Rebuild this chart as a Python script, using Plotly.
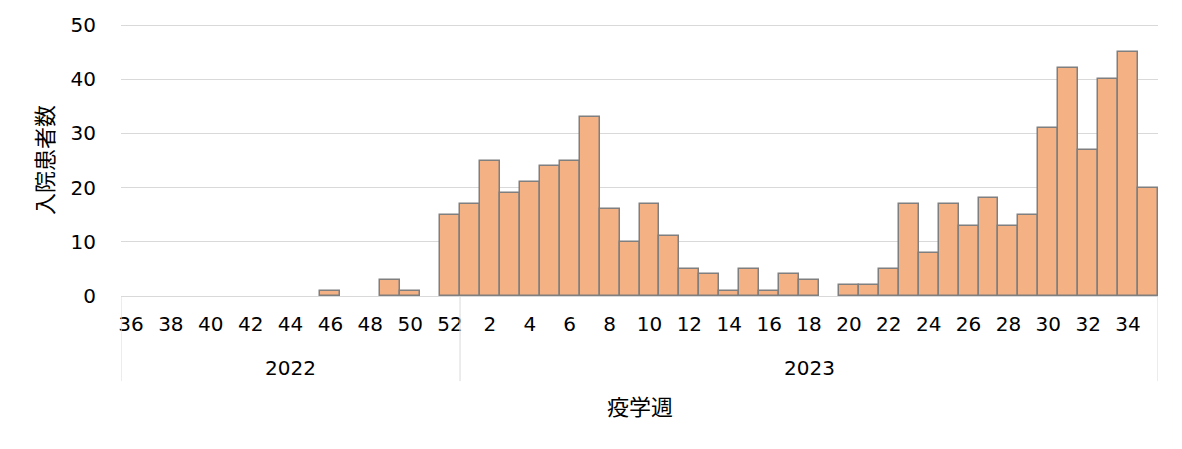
import plotly.graph_objects as go

# weekly hospitalised patients, epi week 36/2022 to 35/2023
weeks_2022 = list(range(36, 53))
patients_2022 = [0, 0, 0, 0, 0, 0, 0, 0, 0, 0, 1, 0, 0, 3, 1, 0, 15]

weeks_2023 = list(range(1, 36))
patients_2023 = [17, 25, 19, 21, 24, 25, 33, 16, 10, 17, 11, 5, 4, 1, 5, 1, 4, 3, 0, 2,
                 2, 5, 17, 8, 17, 13, 18, 13, 15, 31, 42, 27, 40, 45, 20]

years = ["2022", "2023"]

weeks = weeks_2022 + weeks_2023
patients = patients_2022 + patients_2023
pos = list(range(len(weeks)))

# label every other week like the original
tick_pos = [p for p, w in zip(pos, weeks) if w % 2 == 0]
tick_txt = [str(w) for w in weeks if w % 2 == 0]

font_family = "DejaVu Sans, Noto Sans CJK JP, sans-serif"
grid = "#D9D9D9"

# no outline on empty weeks (Excel draws nothing there)
outline_w = [1.5 if v > 0 else 0 for v in patients]

fig = go.Figure(go.Bar(
    x=pos,
    y=patients,
    marker=dict(color="#F4B183", line=dict(color="#7F7F7F", width=outline_w)),
    hovertext=[f"{w}" for w in weeks],
))

# group separators and year labels under the week labels
n22 = len(weeks_2022)
edges = [-0.5, n22 - 0.5, len(weeks) - 0.5]
for e in edges:
    fig.add_shape(type="line", xref="x", yref="paper", x0=e, x1=e, y0=0, y1=-0.313,
                  line=dict(color=grid, width=1))

centers = [(edges[0] + edges[1]) / 2, (edges[1] + edges[2]) / 2]
for yr, c in zip(years, centers):
    fig.add_annotation(x=c, y=-0.265, xref="x", yref="paper", text=yr, showarrow=False,
                       yanchor="middle", font=dict(size=20, color="#000000"))

fig.add_annotation(x=0.5, y=-0.41, xref="paper", yref="paper", text="疫学週", showarrow=False,
                   yanchor="middle", font=dict(size=22, color="#000000"))

# page body has an 8px margin, so shrink the figure to fit the window
fig.update_layout(
    width=1174,
    height=441,
    margin=dict(l=113, r=24, t=16, b=153),
    plot_bgcolor="white",
    paper_bgcolor="white",
    bargap=0,
    showlegend=False,
    font=dict(family=font_family, size=20, color="#000000"),
    xaxis=dict(
        range=[-0.5, len(weeks) - 0.5],
        tickmode="array",
        tickvals=tick_pos,
        ticktext=tick_txt,
        showgrid=False,
        zeroline=False,
        showline=True,
        linecolor=grid,
        linewidth=1,
        ticks="",
        ticklabelstandoff=10,
        tickfont=dict(size=20),
        automargin=False,
    ),
    yaxis=dict(
        # a hair above 50 so the top gridline is not clipped away
        range=[0, 50.2],
        tickvals=[0, 10, 20, 30, 40, 50],
        showgrid=True,
        gridcolor=grid,
        gridwidth=1,
        zeroline=False,
        showline=False,
        ticks="",
        ticklabelstandoff=24,
        tickfont=dict(size=20),
        title=dict(text="入院患者数", font=dict(size=22), standoff=10),
        automargin=False,
    ),
)

fig.write_html("out.html")
